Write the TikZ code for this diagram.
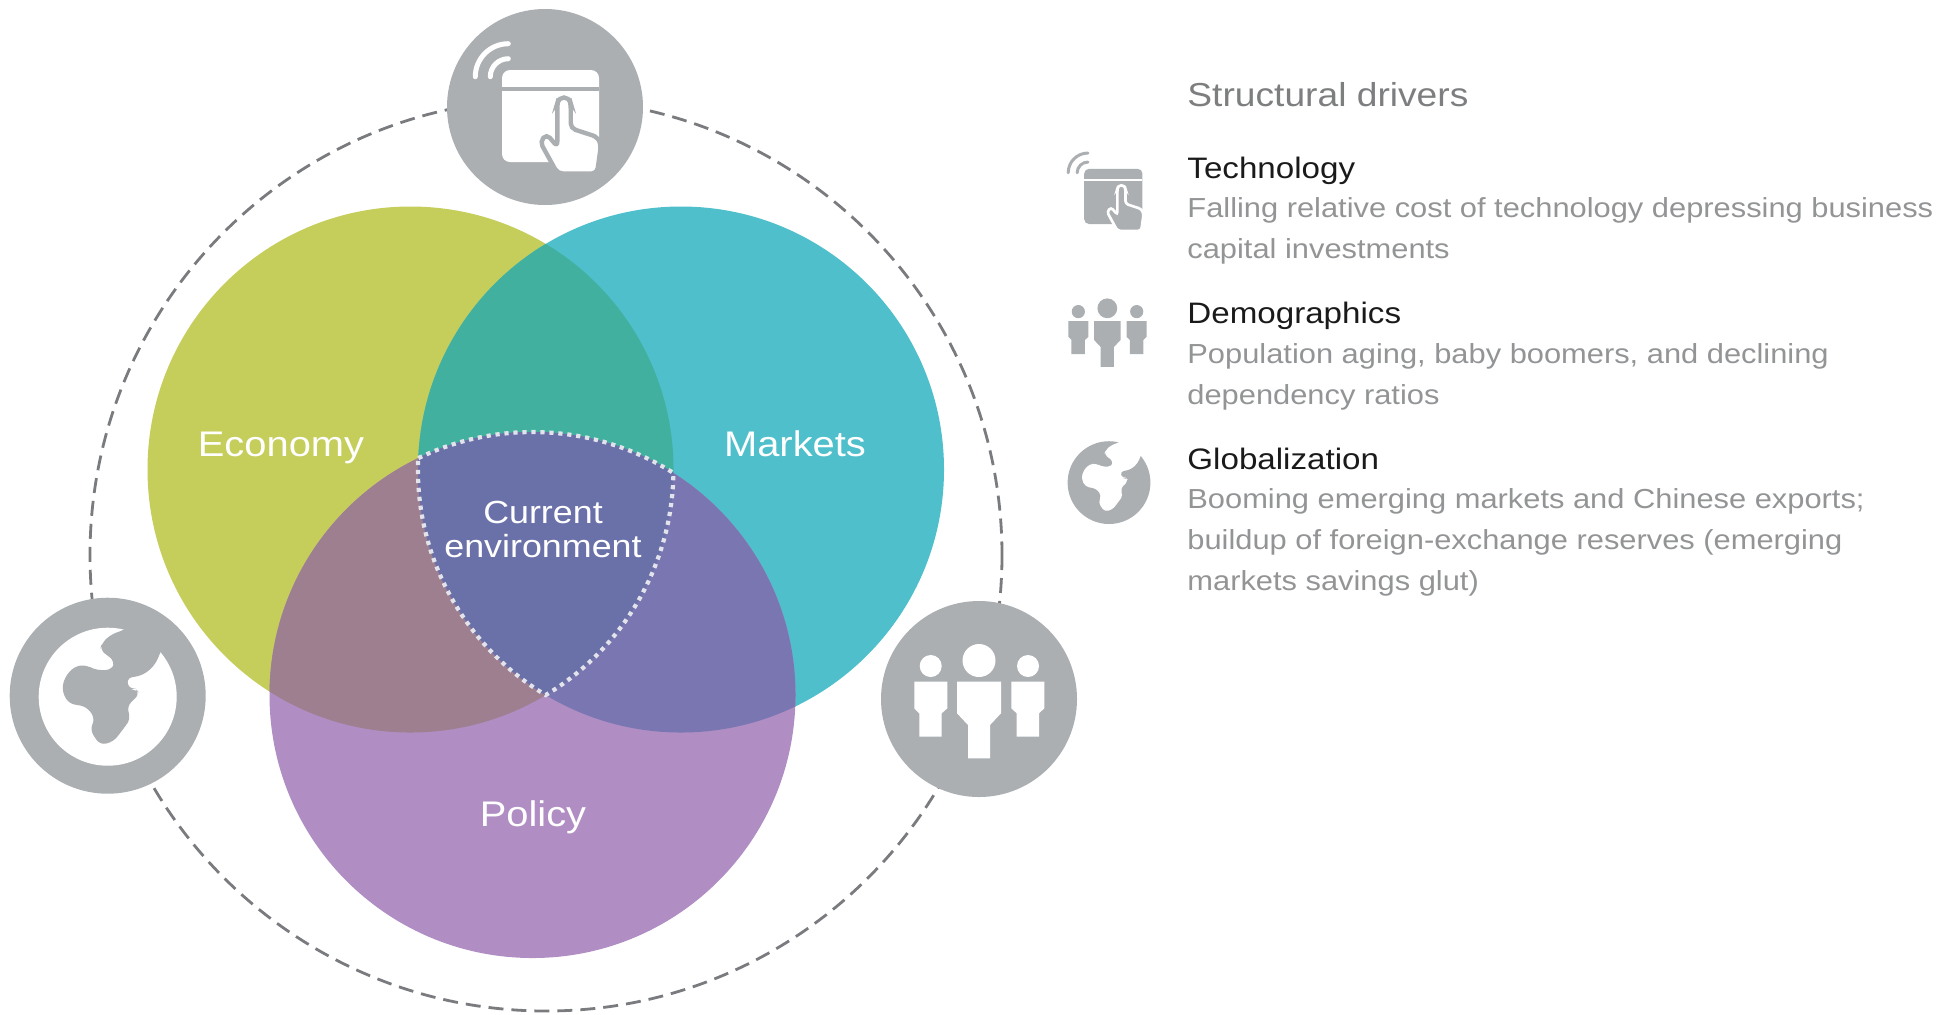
\documentclass[tikz,border=0pt]{standalone}
\usepackage{fontspec}
\setmainfont{Liberation Sans}
\newfontfamily\widefont{Liberation Sans}[FakeStretch=1.12]
\definecolor{icongrey}{HTML}{ABAFB2}
\definecolor{dashgrey}{HTML}{797B7E}
\definecolor{textgrey}{HTML}{929496}
\definecolor{headgrey}{HTML}{7C7E80}
\definecolor{titleblack}{HTML}{1A1A1A}
\definecolor{econcol}{HTML}{C5CD5B}
\definecolor{markcol}{HTML}{4FBFCB}
\definecolor{polcol}{HTML}{B08DC3}
\definecolor{emcol}{HTML}{41B09F}
\definecolor{epcol}{HTML}{9E7F90}
\definecolor{mpcol}{HTML}{7A76B2}
\definecolor{allcol}{HTML}{6A70A8}
\definecolor{dotcol}{HTML}{E3E3EC}
\tikzset{
  venntext/.style={text=white,font=\widefont\fontsize{17.8}{18}\selectfont,anchor=base},
  corelabel/.style={text=white,font=\widefont\fontsize{16}{17}\selectfont,align=center,anchor=base},
  headtext/.style={text=headgrey,inner sep=0pt,font=\widefont\fontsize{16.6}{20}\selectfont,anchor=base west},
  titletext/.style={text=titleblack,inner sep=0pt,font=\widefont\fontsize{14.8}{20}\selectfont,anchor=base west},
  bodytext/.style={text=textgrey,inner sep=0pt,font=\widefont\fontsize{13.77}{20.5}\selectfont,anchor=base west},
}
\begin{document}
\begin{tikzpicture}[x=0.5pt,y=-0.5pt]
\useasboundingbox (0,0) rectangle (1957,1014);
% icons, centred on #1,#2
\def\techicon#1#2#3#4#5{
\begin{scope}[shift={(#1,#2)},scale=#3]
\draw [#4,line width=#3*2.5pt,line cap=round] (-69.7,-30.3) arc [start angle=180,end angle=270,radius=33];
\draw [#4,line width=#3*2.5pt,line cap=round] (-54.7,-30.3) arc [start angle=180,end angle=270,radius=18];
\fill [#4,rounded corners=#3*4pt] (-43,-37) rectangle (54,55);
\fill [#5] (-43,-20) rectangle (54,-16);
\draw [fill=#4,draw=#5,line width=#3*2.2pt,rounded corners=#3*2.5pt] (12.3,-3.7) -- (14,-9.5) -- (24,-9.5) -- (25.7,-3.7) -- (25.7,21.3) -- (52.5,30) -- (56,38) -- (52,66.5) -- (12.5,66.5) -- (-5,34.7) -- (1.7,27) -- (12.3,39.7) -- cycle;
\end{scope}
}
\def\peopleicon#1#2#3#4{
\begin{scope}[shift={(#1,#2)},scale=#3]
\fill [#4] (0,-38.5) circle [radius=16.5];
\fill [#4] (-48.3,-33) circle [radius=11];
\fill [#4] (49,-33) circle [radius=11];
\fill [#4] (-22,-17.3) -- (22,-17.3) -- (22,14.3) -- (11,26) -- (11,59.3) -- (-11,59.3) -- (-11,26) -- (-22,14.3) -- cycle;
\fill [#4] (-64.7,-17.3) -- (-31.7,-17.3) -- (-31.7,9.3) -- (-37.3,14.3) -- (-37.3,37.7) -- (-59.7,37.7) -- (-59.7,14.3) -- (-64.7,9.3) -- cycle;
\fill [#4] (32.3,-17.3) -- (65.3,-17.3) -- (65.3,9.3) -- (60,14.3) -- (60,37.7) -- (37.7,37.7) -- (37.7,14.3) -- (32.3,9.3) -- cycle;
\end{scope}
}
\def\globeicon#1#2#3#4#5{
\begin{scope}[shift={(#1,#2)},scale=#3]
\fill [#4] (0,1) circle [radius=69];
\fill [#5,rounded corners=#3*3pt] (17.3,-66.3) -- (2.3,-60.7) -- (-6,-52.3) -- (-7.7,-45.7) -- (0.7,-39.7) -- (7.3,-34) -- (4,-25.7) -- (-12.7,-25.7) -- (-21,-30.7) -- (-32.7,-29.7) -- (-42.7,-19) -- (-46,-5.7) -- (-39.3,7.7) -- (-21,11) -- (-12.7,22.7) -- (-17.7,34.3) -- (-7.7,49.3) -- (5.7,46) -- (17.3,31) -- (23,22.7) -- (19,11) -- (32.3,-2.3) -- (27.3,-7.3) -- (22.3,-5.7) -- (18.3,-17.3) -- (35.7,-20.7) -- (47.3,-30.7) -- (53,-44) -- (60,-60) -- (30,-75) -- cycle;
\end{scope}
}
% outer ring
\draw [dashgrey,line width=1.4pt,dash pattern=on 7.5pt off 4pt] (546,555) circle [radius=456];
% venn
\def\econ{(410.5,469.5) circle [radius=263]}
\def\mark{(681,469.5) circle [radius=263]}
\def\pol{(532.5,695) circle [radius=263]}
\fill [econcol] \econ;
\fill [markcol] \mark;
\fill [polcol] \pol;
\begin{scope}
\clip \econ;
\fill [emcol] \mark;
\fill [epcol] \pol;
\clip \mark;
\fill [allcol] \pol;
\end{scope}
\begin{scope}
\clip \mark;
\clip \pol;
\fill [mpcol] (200,200) rectangle (1000,1000);
\clip \econ;
\fill [allcol] (200,200) rectangle (1000,1000);
\end{scope}
\draw [dotcol,line width=2.1pt,dash pattern=on 2.1pt off 2.4pt] (418.3,458.1) arc [start angle=244.26,end angle=302.4,radius=263] arc [start angle=0.76,end angle=59.06,radius=263] arc [start angle=120.94,end angle=182.48,radius=263];
\node [venntext] (economy) at (281,456) {Economy};
\node [venntext] (markets) at (795,456) {Markets};
\node [venntext] (policy) at (533,826) {Policy};
\node [corelabel] (current) at (543,557) {Current\\environment};
% big icons
\fill [icongrey] (545,107) circle [radius=98];
\fill [icongrey] (107.7,695.7) circle [radius=98];
\fill [icongrey] (979,699) circle [radius=98];
\techicon{545}{107}{1}{white}{icongrey}
\peopleicon{979}{699}{1}{white}
\globeicon{107.7}{695.7}{1}{white}{icongrey}
% key
\techicon{1110}{191}{0.6}{icongrey}{white}
\peopleicon{1107.3}{331.4}{0.6}{icongrey}
\globeicon{1109}{482}{0.6}{icongrey}{white}
\node [headtext] (drivers) at (1187,106) {Structural drivers};
\def\driver#1#2#3#4#5{
\node [titletext] (#1) at (1187,#2) {#3};
\node [bodytext,align=left] (#1text) at (1187,#2+#4) {#5};
}
\driver{technology}{178}{Technology}{80}{Falling relative cost of technology depressing business\\capital investments}
\driver{demographics}{323}{Demographics}{81}{Population aging, baby boomers, and declining\\dependency ratios}
\driver{globalization}{469}{Globalization}{121}{Booming emerging markets and Chinese exports;\\buildup of foreign-exchange reserves (emerging\\markets savings glut)}
\end{tikzpicture}
\end{document}
